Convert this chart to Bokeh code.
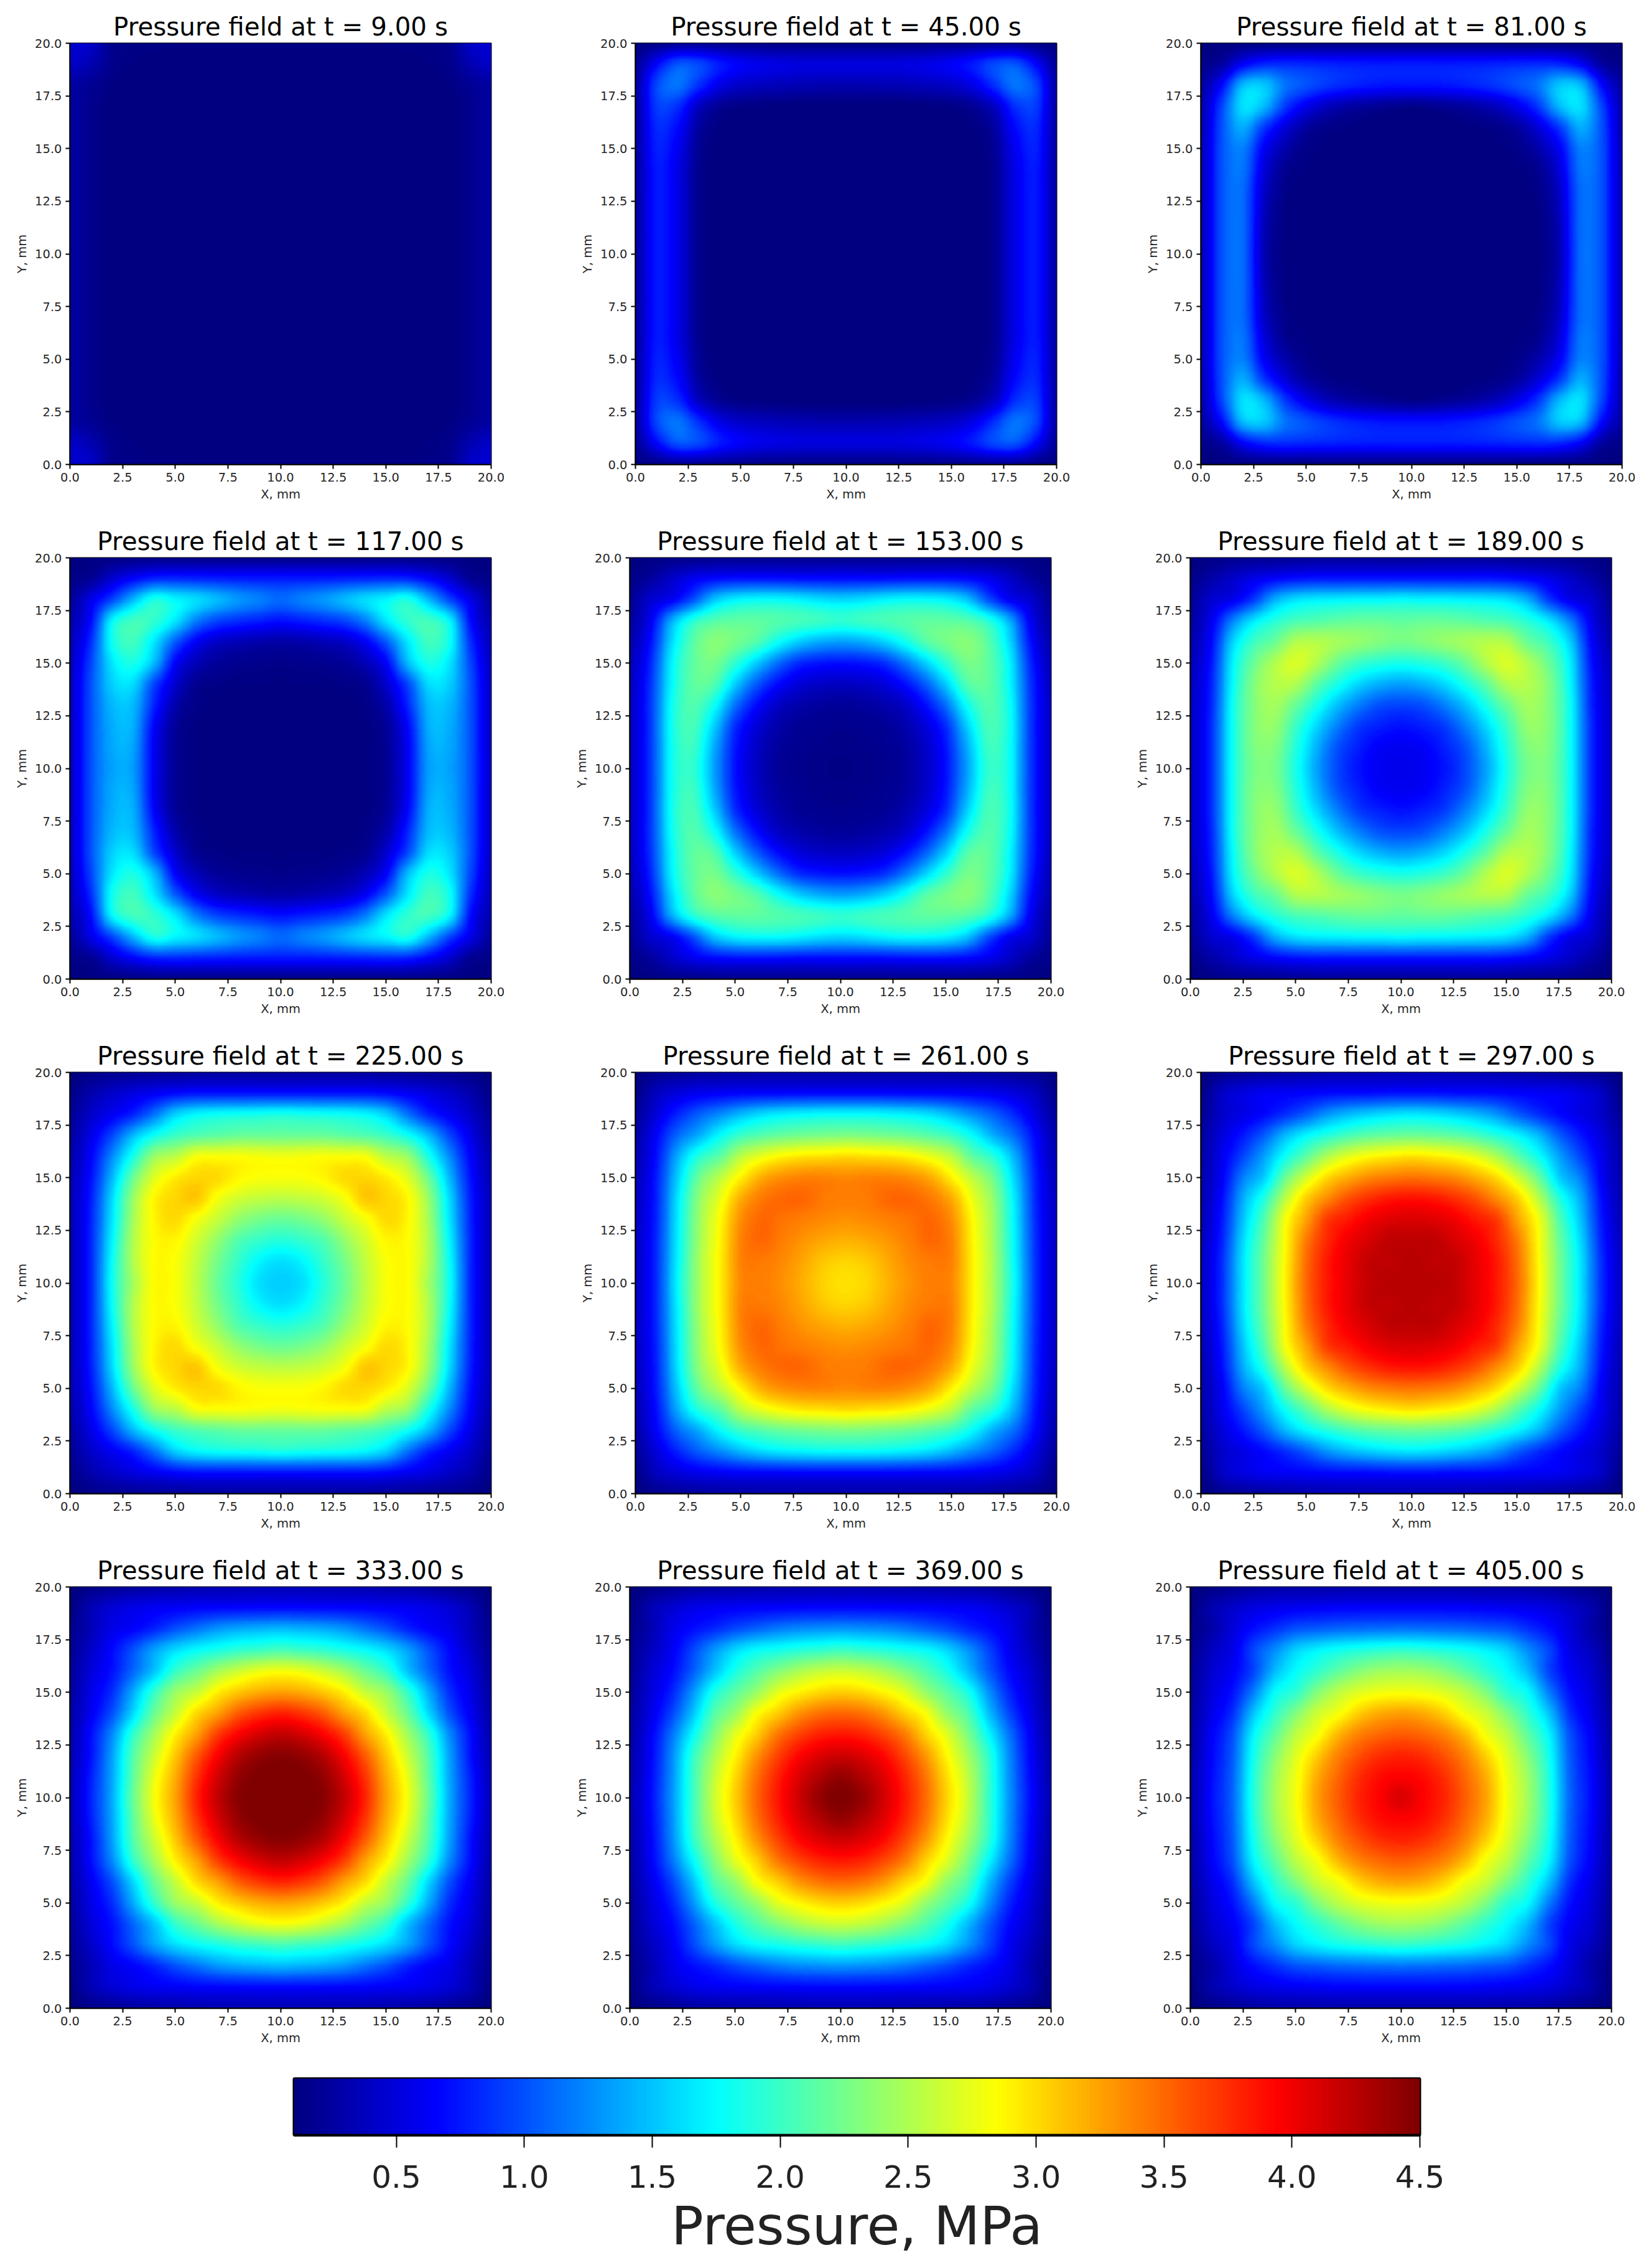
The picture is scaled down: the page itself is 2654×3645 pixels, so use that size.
import numpy as np
from bokeh.embed import file_html
from bokeh.resources import INLINE
from bokeh.layouts import column, row
from bokeh.models import FixedTicker, LinearColorMapper, NumeralTickFormatter
from bokeh.plotting import figure

# Lower-left quadrant of each field, MPa, read at 1 mm nodes: rows Y=0..10, columns X=0..10
P_9 = [
 [.45,.42,.16,.14,.13,.12,.12,.12,.12,.12,.12],
 [.42,.32,.16,.12,.10,.10,.10,.10,.10,.10,.10],
 [.26,.20,.12,.10,.10,.10,.10,.10,.10,.10,.10],
 [.25,.17,.10,.10,.10,.10,.10,.10,.10,.10,.10],
 [.25,.17,.10,.10,.10,.10,.10,.10,.10,.10,.10],
 [.25,.17,.10,.10,.10,.10,.10,.10,.10,.10,.10],
 [.25,.17,.10,.10,.10,.10,.10,.10,.10,.10,.10],
 [.25,.17,.10,.10,.10,.10,.10,.10,.10,.10,.10],
 [.25,.17,.10,.10,.10,.10,.10,.10,.10,.10,.10],
 [.25,.17,.10,.10,.10,.10,.10,.10,.10,.10,.10],
 [.25,.17,.10,.10,.10,.10,.10,.10,.10,.10,.10]]
P_45 = [
 [.12,.14,.20,.20,.18,.16,.15,.14,.14,.14,.14],
 [.20,.65,1.00,.95,.75,.62,.55,.52,.50,.50,.50],
 [.25,.95,1.15,.85,.55,.42,.38,.35,.33,.32,.32],
 [.25,.90,.85,.40,.20,.14,.12,.11,.10,.10,.10],
 [.25,.82,.68,.25,.12,.10,.10,.10,.10,.10,.10],
 [.25,.78,.60,.20,.10,.10,.10,.10,.10,.10,.10],
 [.25,.75,.55,.18,.10,.10,.10,.10,.10,.10,.10],
 [.25,.75,.55,.18,.10,.10,.10,.10,.10,.10,.10],
 [.25,.75,.55,.18,.10,.10,.10,.10,.10,.10,.10],
 [.25,.75,.55,.18,.10,.10,.10,.10,.10,.10,.10],
 [.25,.75,.55,.18,.10,.10,.10,.10,.10,.10,.10]]
P_81 = [
 [.10,.11,.12,.12,.12,.12,.13,.13,.13,.13,.13],
 [.15,.25,.62,.80,.82,.80,.78,.76,.75,.75,.75],
 [.25,.68,1.45,1.50,1.15,1.00,.88,.80,.75,.72,.72],
 [.30,.95,1.62,1.45,.90,.58,.38,.28,.22,.18,.15],
 [.32,1.00,1.40,.90,.50,.25,.15,.12,.10,.10,.10],
 [.35,1.00,1.20,.62,.30,.15,.11,.10,.10,.10,.10],
 [.35,1.00,1.15,.50,.18,.12,.10,.10,.10,.10,.10],
 [.35,1.00,1.10,.42,.15,.11,.10,.10,.10,.10,.10],
 [.35,1.00,1.10,.38,.12,.10,.10,.10,.10,.10,.10],
 [.35,1.00,1.10,.35,.12,.10,.10,.10,.10,.10,.10],
 [.35,1.00,1.10,.33,.11,.10,.10,.10,.10,.10,.10]]
P_117 = [
 [.10,.12,.13,.14,.15,.15,.15,.15,.15,.15,.15],
 [.15,.20,.45,.65,.80,.82,.80,.78,.76,.75,.75],
 [.22,.55,.95,1.45,1.85,1.72,1.60,1.45,1.30,1.20,1.10],
 [.30,.70,1.72,2.02,1.95,1.65,1.20,.95,.85,.78,.72],
 [.35,.85,1.80,2.02,1.65,1.05,.62,.42,.35,.30,.28],
 [.38,.95,1.65,1.85,1.45,.65,.35,.22,.18,.16,.15],
 [.40,1.00,1.55,1.60,.95,.45,.18,.14,.12,.12,.11],
 [.40,1.00,1.45,1.45,.80,.30,.14,.11,.10,.10,.10],
 [.40,1.00,1.40,1.40,.65,.22,.12,.10,.10,.10,.10],
 [.40,1.00,1.38,1.35,.60,.20,.12,.10,.10,.10,.10],
 [.40,1.00,1.35,1.32,.60,.20,.12,.10,.10,.10,.10]]
P_153 = [
 [.10,.13,.15,.16,.17,.18,.18,.18,.18,.18,.18],
 [.15,.24,.42,.58,.68,.72,.73,.72,.70,.70,.70],
 [.20,.45,.62,1.00,1.50,1.70,1.75,1.75,1.70,1.62,1.58],
 [.25,.60,1.40,1.90,2.10,2.15,2.15,2.10,2.05,2.00,1.95],
 [.30,.72,1.60,2.12,2.33,2.25,2.10,1.80,1.55,1.40,1.35],
 [.35,.82,1.72,2.15,2.25,1.95,1.55,1.15,.85,.75,.72],
 [.38,.88,1.75,2.15,2.10,1.55,1.05,.70,.50,.42,.40],
 [.40,.90,1.80,2.10,1.80,1.15,.70,.42,.30,.24,.22],
 [.40,.90,1.82,2.05,1.55,.85,.50,.30,.20,.18,.16],
 [.40,.90,1.80,2.00,1.40,.75,.42,.24,.18,.15,.14],
 [.40,.90,1.80,1.95,1.35,.72,.40,.22,.16,.14,.13]]
P_189 = [
 [.10,.14,.17,.19,.20,.21,.22,.22,.22,.22,.22],
 [.15,.28,.42,.55,.65,.72,.75,.75,.75,.75,.75],
 [.20,.45,.58,.90,1.40,1.62,1.68,1.70,1.72,1.72,1.75],
 [.25,.58,1.20,1.65,1.90,2.05,2.10,2.15,2.18,2.18,2.15],
 [.30,.68,1.55,2.00,2.20,2.50,2.52,2.45,2.38,2.30,2.25],
 [.35,.75,1.70,2.20,2.50,2.68,2.50,2.20,2.00,1.90,1.85],
 [.38,.80,1.75,2.30,2.52,2.50,2.15,1.85,1.58,1.42,1.35],
 [.40,.82,1.80,2.30,2.45,2.20,1.85,1.48,1.20,1.00,.95],
 [.40,.85,1.80,2.30,2.38,2.00,1.58,1.20,.90,.78,.72],
 [.40,.85,1.80,2.28,2.30,1.90,1.42,1.00,.78,.63,.60],
 [.40,.85,1.80,2.25,2.25,1.85,1.35,.95,.72,.60,.58]]
P_225 = [
 [.10,.15,.18,.20,.22,.23,.24,.25,.25,.25,.25],
 [.15,.30,.42,.52,.60,.68,.72,.72,.72,.72,.72],
 [.20,.42,.60,.80,1.15,1.55,1.72,1.78,1.80,1.82,1.85],
 [.25,.55,.95,1.45,1.80,2.00,2.10,2.15,2.20,2.20,2.20],
 [.30,.65,1.25,1.85,2.40,2.55,2.80,2.82,2.82,2.80,2.78],
 [.33,.72,1.45,2.20,2.70,2.92,3.02,3.00,2.88,2.82,2.82],
 [.35,.78,1.60,2.40,2.88,3.02,3.08,2.80,2.65,2.58,2.55],
 [.35,.80,1.65,2.45,2.88,3.00,2.80,2.60,2.38,2.25,2.20],
 [.35,.82,1.72,2.50,2.85,2.88,2.65,2.38,2.10,1.97,1.90],
 [.35,.82,1.78,2.50,2.85,2.82,2.58,2.25,1.97,1.72,1.62],
 [.35,.82,1.80,2.45,2.85,2.82,2.55,2.20,1.90,1.62,1.55]]
P_261 = [
 [.10,.18,.22,.25,.27,.28,.29,.30,.30,.30,.30],
 [.15,.38,.50,.58,.62,.65,.66,.67,.68,.68,.68],
 [.22,.50,.80,1.05,1.25,1.45,1.60,1.68,1.72,1.75,1.75],
 [.28,.65,1.10,1.40,1.75,2.00,2.12,2.20,2.25,2.28,2.30],
 [.32,.72,1.40,1.90,2.15,2.55,2.75,2.88,2.95,2.97,3.00],
 [.35,.78,1.55,2.20,2.55,2.90,3.20,3.33,3.38,3.38,3.35],
 [.38,.80,1.65,2.35,2.75,3.20,3.42,3.50,3.50,3.42,3.40],
 [.40,.82,1.68,2.40,2.85,3.33,3.50,3.45,3.40,3.35,3.32],
 [.40,.84,1.70,2.42,2.88,3.38,3.50,3.40,3.30,3.22,3.18],
 [.40,.85,1.72,2.45,2.90,3.38,3.42,3.35,3.22,3.08,3.03],
 [.40,.85,1.75,2.45,2.90,3.35,3.40,3.32,3.18,3.03,2.97]]
P_297 = [
 [.10,.18,.22,.25,.28,.30,.32,.33,.34,.35,.35],
 [.14,.40,.52,.60,.62,.65,.68,.70,.70,.72,.72],
 [.20,.42,.55,.68,.85,1.05,1.30,1.45,1.55,1.62,1.65],
 [.25,.50,.75,1.05,1.45,1.72,1.90,2.05,2.15,2.20,2.22],
 [.28,.58,.95,1.35,1.80,2.15,2.50,2.72,2.85,2.92,2.97],
 [.30,.62,1.20,1.55,2.20,2.65,3.00,3.20,3.35,3.42,3.45],
 [.32,.70,1.40,1.90,2.55,3.05,3.35,3.60,3.75,3.85,3.88],
 [.35,.75,1.50,2.10,2.80,3.25,3.70,3.85,4.00,4.08,4.10],
 [.38,.80,1.60,2.20,2.85,3.42,3.78,4.00,4.12,4.22,4.22],
 [.40,.85,1.65,2.25,2.88,3.48,3.85,4.05,4.20,4.22,4.25],
 [.40,.85,1.65,2.25,2.90,3.50,3.85,4.05,4.20,4.25,4.25]]
P_333 = [
 [.10,.15,.20,.25,.28,.30,.32,.33,.34,.35,.35],
 [.13,.33,.47,.55,.60,.62,.65,.66,.67,.68,.68],
 [.17,.35,.55,.65,.80,1.00,1.15,1.30,1.38,1.42,1.45],
 [.20,.42,.68,1.00,1.35,1.60,1.75,1.85,1.95,2.00,2.05],
 [.22,.50,.72,1.10,1.50,1.97,2.20,2.45,2.62,2.75,2.80],
 [.25,.55,.85,1.40,1.97,2.40,2.60,2.90,3.08,3.20,3.25],
 [.28,.60,1.00,1.60,2.20,2.60,3.00,3.25,3.55,3.72,3.80],
 [.30,.70,1.25,1.95,2.45,2.90,3.25,3.68,3.95,4.12,4.20],
 [.32,.72,1.35,2.10,2.62,3.08,3.55,3.95,4.25,4.40,4.45],
 [.35,.78,1.38,2.15,2.75,3.20,3.72,4.12,4.40,4.50,4.50],
 [.35,.80,1.40,2.20,2.80,3.25,3.80,4.20,4.45,4.50,4.50]]
P_369 = [
 [.10,.14,.20,.25,.27,.29,.30,.31,.32,.33,.33],
 [.12,.32,.45,.55,.60,.62,.64,.65,.66,.67,.67],
 [.15,.32,.55,.70,.82,.97,1.08,1.18,1.25,1.28,1.30],
 [.18,.38,.60,.95,1.30,1.58,1.75,1.82,1.90,1.95,2.00],
 [.20,.45,.68,1.05,1.48,1.85,2.10,2.30,2.47,2.58,2.62],
 [.22,.50,.80,1.30,1.85,2.15,2.40,2.72,2.88,3.00,3.05],
 [.25,.55,.95,1.50,2.10,2.40,2.82,3.05,3.30,3.45,3.50],
 [.27,.62,1.15,1.75,2.30,2.72,3.05,3.42,3.65,3.80,3.85],
 [.30,.65,1.25,1.95,2.47,2.88,3.30,3.65,3.92,4.08,4.15],
 [.30,.68,1.28,2.00,2.58,3.00,3.45,3.80,4.08,4.28,4.40],
 [.33,.70,1.30,2.00,2.62,3.05,3.50,3.85,4.15,4.40,4.50]]
P_405 = [
 [.10,.14,.20,.25,.28,.29,.29,.30,.30,.30,.30],
 [.12,.30,.42,.52,.57,.60,.62,.64,.65,.65,.65],
 [.14,.28,.50,.70,.85,1.00,1.05,1.10,1.12,1.14,1.15],
 [.17,.38,.55,.95,1.25,1.55,1.70,1.80,1.87,1.92,1.95],
 [.20,.45,.62,.95,1.45,1.75,1.95,2.15,2.32,2.42,2.45],
 [.22,.50,.72,1.20,1.75,1.95,2.30,2.55,2.70,2.78,2.80],
 [.25,.55,.85,1.50,1.95,2.30,2.62,2.80,3.05,3.20,3.25],
 [.27,.62,1.00,1.72,2.15,2.55,2.80,3.15,3.38,3.50,3.55],
 [.28,.65,1.05,1.82,2.32,2.70,3.05,3.38,3.60,3.75,3.80],
 [.30,.68,1.08,1.88,2.42,2.78,3.20,3.50,3.75,3.90,3.95],
 [.30,.70,1.10,1.90,2.45,2.80,3.25,3.55,3.80,3.95,4.10]]

times = ["9.00","45.00","81.00","117.00","153.00","189.00","225.00","261.00","297.00","333.00","369.00","405.00"]
fields = [P_9,P_45,P_81,P_117,P_153,P_189,P_225,P_261,P_297,P_333,P_369,P_405]
tick_values = [0.0,2.5,5.0,7.5,10.0,12.5,15.0,17.5,20.0]
bar_ticks = [0.5,1.0,1.5,2.0,2.5,3.0,3.5,4.0,4.5]
p_min, p_max = 0.1, 4.5
bar_label = "Pressure, MPa"
SUB = 12  # display pixels per 1 mm node when the field is resampled for drawing

def jet(n=256):
    out = []
    for t in np.linspace(0, 1, n):
        r = np.clip(min(4*t-1.5, -4*t+4.5), 0, 1)
        g = np.clip(min(4*t-0.5, -4*t+3.5), 0, 1)
        b = np.clip(min(4*t+0.5, -4*t+2.5), 0, 1)
        out.append("#%02x%02x%02x" % (round(r*255), round(g*255), round(b*255)))
    return out

mapper = LinearColorMapper(palette=jet(), low=p_min, high=p_max)

def full_field(q):
    q = np.array(q, dtype=float)
    bottom = np.hstack([q, q[:, -2::-1]])
    return np.vstack([bottom, bottom[-2::-1]])

def resample_axis(a, k):
    # display resampling only (Catmull-Rom, as imshow's bicubic does): the read nodes are kept exactly
    n = a.shape[0]
    pos = np.linspace(0, n-1, (n-1)*k+1)
    i = np.minimum(pos.astype(int), n-2)
    t = (pos-i).reshape((-1,)+(1,)*(a.ndim-1))
    p0, p1 = a[np.maximum(i-1, 0)], a[i]
    p2, p3 = a[i+1], a[np.minimum(i+2, n-1)]
    return 0.5*(2*p1+(p2-p0)*t+(2*p0-5*p1+4*p2-p3)*t**2+(3*p1-p0-3*p2+p3)*t**3)

def display_field(q):
    f = full_field(q)
    f = resample_axis(f, SUB)
    return resample_axis(f.T, SUB).T

def panel(t, q, left_border, right_border, top_border):
    p = figure(frame_width=677, frame_height=677, x_range=(0, 20), y_range=(0, 20),
               min_border_left=left_border, min_border_right=right_border, min_border_top=top_border, min_border_bottom=89,
               output_backend="svg", toolbar_location=None, tools="",
               title=f"Pressure field at t = {t} s", x_axis_label="X, mm", y_axis_label="Y, mm",
               background_fill_color="white", border_fill_color="white")
    half = 0.5/SUB
    p.image(image=[display_field(q)], x=-half, y=-half, dw=20+2*half, dh=20+2*half, color_mapper=mapper)
    p.title.align = "center"
    p.title.text_font = "DejaVu Sans"
    p.title.text_font_size = "40.4px"
    p.title.text_font_style = "normal"
    p.title.text_color = "#000000"
    p.title.standoff = 5
    p.grid.visible = False
    p.outline_line_color = "#000000"
    p.outline_line_width = 2
    for ax in (p.xaxis[0], p.yaxis[0]):
        ax.ticker = FixedTicker(ticks=tick_values)
        ax.formatter = NumeralTickFormatter(format="0.0")
        ax.minor_tick_line_color = None
        ax.major_tick_out = 7
        ax.major_tick_in = 0
        ax.major_tick_line_width = 2
        ax.major_tick_line_color = "#000000"
        ax.axis_line_width = 2
        ax.axis_line_color = "#000000"
        ax.major_label_text_font = "DejaVu Sans"
        ax.major_label_text_font_size = "19.5px"
        ax.major_label_text_color = "#262626"
        ax.axis_label_text_font = "DejaVu Sans"
        ax.axis_label_text_font_size = "19.5px"
        ax.axis_label_text_font_style = "normal"
        ax.axis_label_text_color = "#262626"
        ax.major_label_standoff = 6
        ax.axis_label_standoff = 6
    return p

borders = [[128,128,30],[119,120,40],[128,128,30],[119,120,40]]
rows = []
for i in range(4):
    top = 69 if i == 0 else 61
    figs = [panel(times[3*i+j], fields[3*i+j], 112 if j == 0 else 104, borders[i][j], top) for j in range(3)]
    rows.append(row(*figs))

bar = figure(frame_width=1810, frame_height=91, x_range=(p_min, p_max), y_range=(0, 1),
             min_border_left=472, min_border_right=100, min_border_top=24, min_border_bottom=190,
             output_backend="svg", toolbar_location=None, tools="", x_axis_label=bar_label,
             background_fill_color="white", border_fill_color="white")
bar.image(image=[np.linspace(p_min, p_max, 256).reshape(1, -1)], x=p_min, y=0, dw=p_max-p_min, dh=1, color_mapper=mapper)
bar.grid.visible = False
bar.yaxis.visible = False
bar.outline_line_color = "#000000"
bar.outline_line_width = 4
ax = bar.xaxis[0]
ax.ticker = FixedTicker(ticks=bar_ticks)
ax.formatter = NumeralTickFormatter(format="0.0")
ax.minor_tick_line_color = None
ax.major_tick_out = 20
ax.major_tick_in = 0
ax.major_tick_line_width = 2
ax.major_tick_line_color = "#000000"
ax.axis_line_width = 4
ax.axis_line_color = "#000000"
ax.major_label_text_font = "DejaVu Sans"
ax.major_label_text_font_size = "50px"
ax.major_label_text_color = "#222222"
ax.axis_label_text_font = "DejaVu Sans"
ax.axis_label_text_font_size = "86px"
ax.axis_label_text_font_style = "normal"
ax.axis_label_text_color = "#222222"
ax.major_label_standoff = 28
ax.axis_label_standoff = 8

page = column(*rows, bar)
open("out.html", "w").write(file_html(page, INLINE))
